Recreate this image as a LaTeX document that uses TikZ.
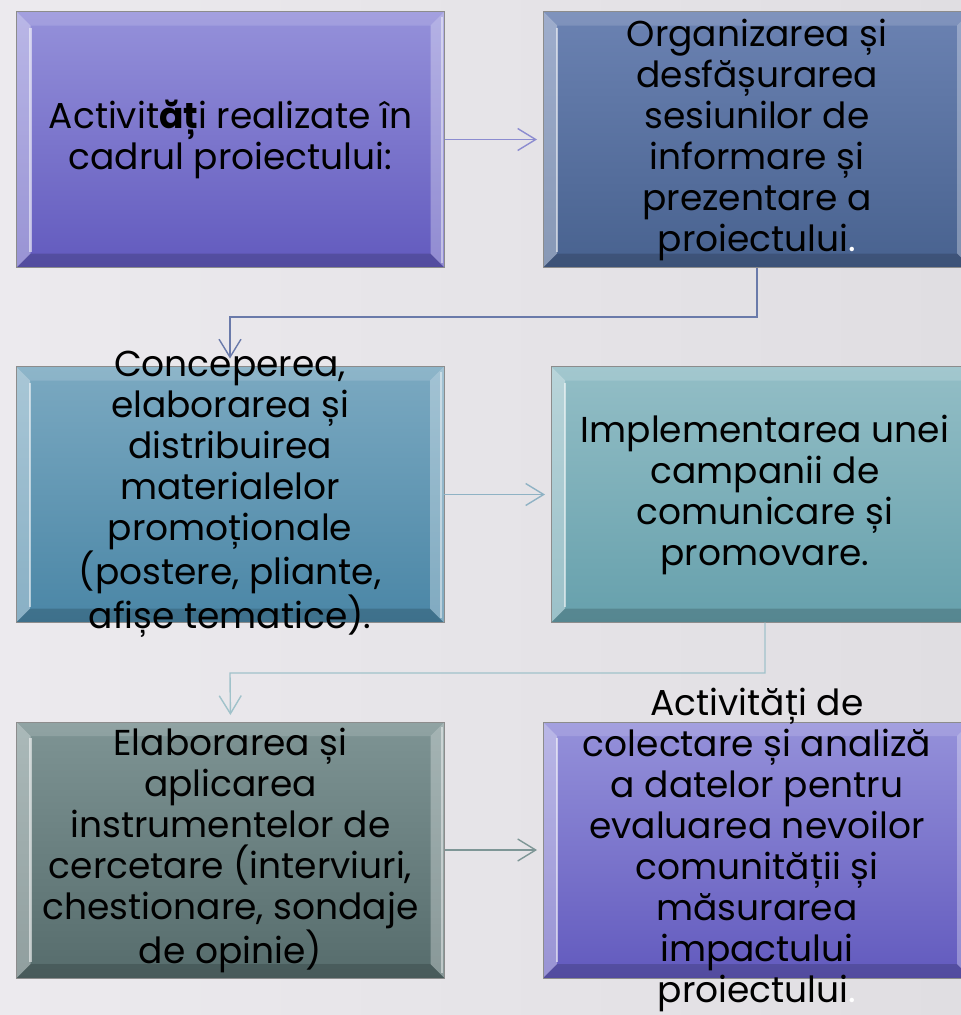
\documentclass[tikz,border=0pt]{standalone}
\usepackage{fontspec}
\setmainfont{Poppins}
\usetikzlibrary{arrows.meta,calc}
\definecolor{bgL}{HTML}{ECEAEE}
\definecolor{bgR}{HTML}{E0DEE2}
\definecolor{pTop}{HTML}{9591DA}
\definecolor{pBot}{HTML}{625ABE}
\definecolor{sTop}{HTML}{6B82B2}
\definecolor{sBot}{HTML}{48628F}
\definecolor{bTop}{HTML}{7BA9C1}
\definecolor{bBot}{HTML}{4A86A6}
\definecolor{tTop}{HTML}{93BEC6}
\definecolor{tBot}{HTML}{66A0AC}
\definecolor{gTop}{HTML}{7E9494}
\definecolor{gBot}{HTML}{566C6C}
\definecolor{aPurple}{HTML}{8C8CD0}
\definecolor{aSlate}{HTML}{6A7AAA}
\definecolor{aBlue}{HTML}{8FB2C4}
\definecolor{aTeal}{HTML}{A0C2CA}
\definecolor{aGrey}{HTML}{7E9696}
\tikzset{
  bevbox/.style 2 args={draw=black!45, line width=0.8pt, top color=#1, bottom color=#2,
    minimum width=428pt, minimum height=256pt, inner sep=0pt, outer sep=0pt,
    path picture={
      \coordinate (pnw) at (path picture bounding box.north west);
      \coordinate (pne) at (path picture bounding box.north east);
      \coordinate (psw) at (path picture bounding box.south west);
      \coordinate (pse) at (path picture bounding box.south east);
      \fill[white,opacity=.14] (pnw) -- (pne) -- ([shift={(-14pt,-14pt)}]pne) -- ([shift={(14pt,-14pt)}]pnw) -- cycle;
      \fill[white,opacity=.35] (pnw) -- ([shift={(14pt,-14pt)}]pnw) -- ([shift={(14pt,14pt)}]psw) -- (psw) -- cycle;
      \fill[white,opacity=.30] (pne) -- ([shift={(-14pt,-14pt)}]pne) -- ([shift={(-14pt,14pt)}]pse) -- (pse) -- cycle;
      \fill[black,opacity=.16] (psw) -- ([shift={(14pt,14pt)}]psw) -- ([shift={(-14pt,14pt)}]pse) -- (pse) -- cycle;
      \draw[white,opacity=.55,line width=2.5pt] ([shift={(14pt,-16pt)}]pnw) -- ([shift={(14pt,16pt)}]psw);
      \draw[white,opacity=.45,line width=2pt] ([shift={(-3pt,-5pt)}]pne) -- ([shift={(-3pt,5pt)}]pse);
    }},
  txt/.style={align=center, inner sep=0pt, text=black, font=\fontsize{36}{41}\selectfont},
  conn/.style={line width=1.4pt, -{Straight Barb[length=18pt,width=22pt,line width=1.4pt]}},
}
\begin{document}
\begin{tikzpicture}[x=1pt,y=-1pt]
\useasboundingbox (0,0) rectangle (961,1015);
\clip (0,0) rectangle (961,1015);
\fill[left color=bgL, right color=bgR] (0,0) rectangle (961,1015);

% boxes
\node[bevbox={pTop}{pBot}] (b1) at (230.5,139.5) {};
\node[bevbox={sTop}{sBot}] (b2) at (757,139.5) {};
\node[bevbox={bTop}{bBot}] (b3) at (230,494.5) {};
\node[bevbox={tTop}{tBot}] (b4) at (765,494.5) {};
\node[bevbox={gTop}{gBot}] (b5) at (230.5,850) {};
\node[bevbox={pTop}{pBot}] (b6) at (757,850) {};

% texts
\node[txt] (t1) at (b1.center) {Activit\textbf{ăț}i realizate în\\cadrul proiectului:};
\node[txt] (t2) at (b2.center) {Organizarea și\\desfășurarea\\sesiunilor de\\informare și\\prezentare a\\proiectului{\color{white}.}};
\node[txt] (t3) at (b3.center) {Conceperea,\\elaborarea și\\distribuirea\\materialelor\\promoționale\\(postere, pliante,\\afișe tematice).};
\node[txt] (t4) at (b4.center) {Implementarea unei\\campanii de\\comunicare și\\promovare.};
\node[txt] (t5) at (b5.center) {Elaborarea și\\aplicarea\\instrumentelor de\\cercetare (interviuri,\\chestionare, sondaje\\de opinie)};
\node[txt] (t6) at (b6.center) {Activități de\\colectare și analiză\\a datelor pentru\\evaluarea nevoilor\\comunității și\\măsurarea\\impactului\\proiectului{\color{white}.}};

% connectors
\coordinate (k1) at (230,317);
\coordinate (k2) at (230,673);
\draw[conn, aPurple, shorten >=6pt] (b1.east) -- (b2.west);
\draw[conn, aSlate, shorten >=8pt] (b2.south) |- (k1) -- (b3.north);
\draw[conn, aBlue, shorten >=6pt] (b3.east) -- (b4.west);
\draw[conn, aTeal, shorten >=7pt] (b4.south) |- (k2) -- (b5.north);
\draw[conn, aGrey, shorten >=6pt] (b5.east) -- (b6.west);
\end{tikzpicture}
\end{document}
